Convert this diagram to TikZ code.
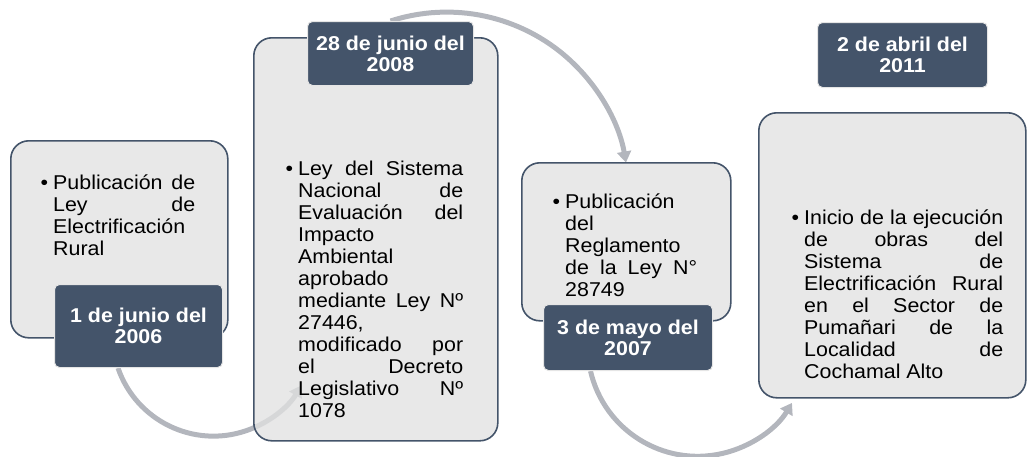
\documentclass[tikz,border=0pt]{standalone}
\usepackage{fontspec}
\setmainfont{Liberation Sans}[FakeStretch=1.07]
\usepackage{tikz}
\usetikzlibrary{arrows.meta, backgrounds}
\definecolor{slateblue}{HTML}{44546A}
\definecolor{panelgray}{HTML}{E1E1E1}
\definecolor{flowgray}{HTML}{B3B6BD}
\tolerance=10000 \hbadness=10000 \hyphenpenalty=10000
\newcommand{\bul}{\leavevmode\llap{\textbullet\kern5pt}}

\begin{document}
\begin{tikzpicture}[
  x=1pt, y=-1pt,
  panel/.style={rectangle, draw=slateblue, line width=1.6pt, fill=panelgray, fill opacity=0.77, rounded corners=18pt, anchor=north west, inner sep=0pt},
  datebox/.style={rectangle, draw=white!80!gray, line width=1pt, fill=slateblue, rounded corners=5pt, anchor=north west, inner sep=0pt, text=white, font=\bfseries\fontsize{20}{21}\selectfont, align=center},
  body/.style={anchor=base west, inner sep=0pt, align=justify, font=\fontsize{20}{22}\selectfont},
  flow/.style={draw=flowgray, line width=5pt, -{Triangle[length=11pt,width=14pt]}}
]
  \useasboundingbox (0,0) rectangle (1027,456);

  \node[panel, minimum width=217pt, minimum height=197pt] (b1) at (10,140) {};
  \node[panel, minimum width=244pt, minimum height=403pt] (b2) at (253,37) {};
  \node[panel, minimum width=209pt, minimum height=158pt] (b3) at (521,162) {};
  \node[panel, minimum width=267pt, minimum height=285pt] (b4) at (758,112) {};

  \node[datebox, minimum width=168pt, minimum height=83pt] (d1) at (54,284) {1 de junio del\\2006};
  \node[datebox, minimum width=166pt, minimum height=64pt] (d2) at (307,21) {28 de junio del\\2008};
  \node[datebox, minimum width=169pt, minimum height=66pt] (d3) at (543,304) {3 de mayo del\\2007};
  \node[datebox, minimum width=170pt, minimum height=65pt] (d4) at (817,22) {2 de abril del\\2011};

  \node[body, text width=142pt] (t1) at (53,189) {\bul Publicación de\linebreak Ley de\linebreak Electrificación\linebreak Rural};
  \node[body, text width=165pt] (t2) at (298,175) {\bul Ley del Sistema\linebreak Nacional de\linebreak Evaluación del\linebreak Impacto\linebreak Ambiental\linebreak aprobado\linebreak mediante Ley Nº\linebreak 27446,\linebreak modificado por\linebreak el Decreto\linebreak Legislativo Nº\linebreak 1078};
  \node[body, text width=132pt] (t3) at (565,208) {\bul Publicación\linebreak del\linebreak Reglamento\linebreak de la Ley N°\linebreak 28749};
  \node[body, text width=199pt] (t4) at (804,224) {\bul Inicio de la ejecución\linebreak de obras del\linebreak Sistema de\linebreak Electrificación Rural\linebreak en el Sector de\linebreak Pumañari de la\linebreak Localidad de\linebreak Cochamal Alto};

  \begin{pgfonlayer}{background}
    \draw[flow] ([xshift=-20.5pt]d1.south) arc[start angle=161, end angle=30, radius=101];
    \draw[flow] (d2.north) arc[start angle=252, end angle=350, radius=182];
    \draw[flow] ([xshift=-37.5pt]d3.south) arc[start angle=167, end angle=31, radius=110];
  \end{pgfonlayer}
\end{tikzpicture}
\end{document}
